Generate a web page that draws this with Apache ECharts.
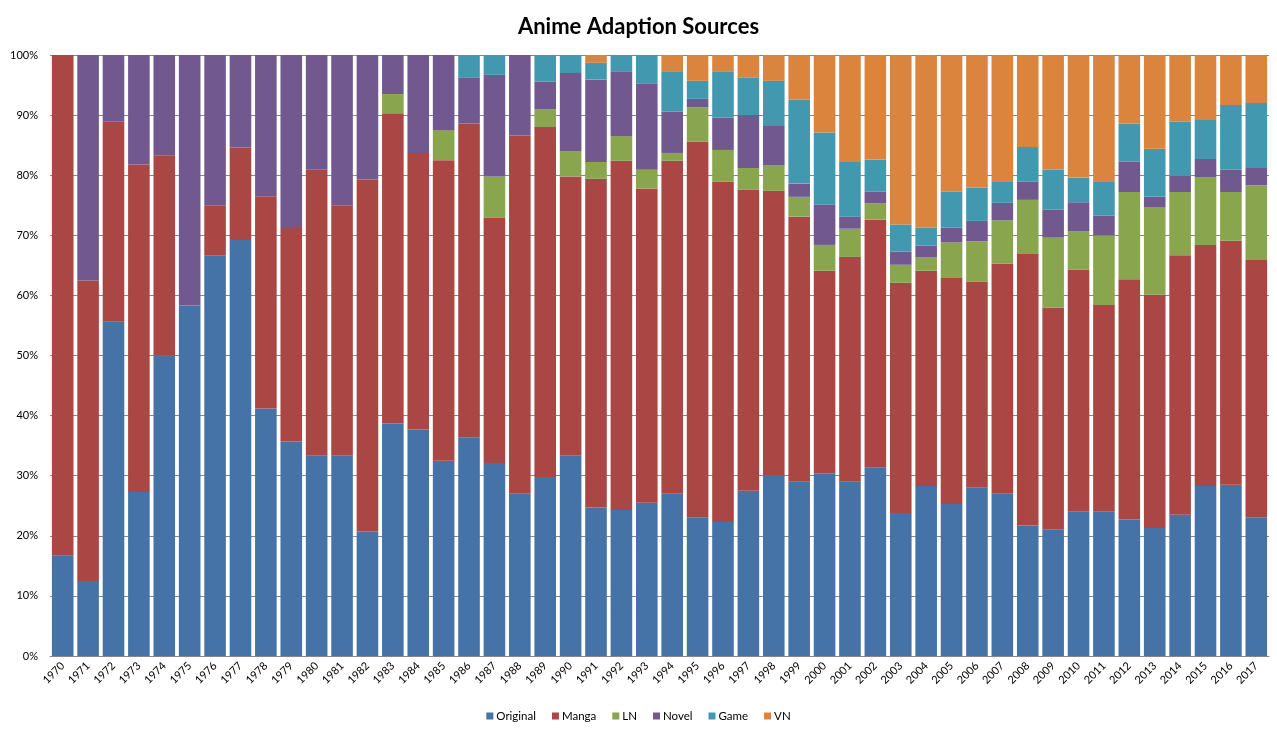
<!DOCTYPE html>
<html>
<head>
<meta charset="utf-8">
<script src="https://cdn.jsdelivr.net/npm/echarts@6/dist/echarts.min.js"></script>
<style>
html,body{margin:0;padding:0;background:#fff;}
#chart{width:1277px;height:736px;}
</style>
</head>
<body>
<div id="chart"></div>
<script>
var years = ['1970','1971','1972','1973','1974','1975','1976','1977','1978','1979','1980','1981','1982','1983','1984','1985','1986','1987','1988','1989','1990','1991','1992','1993','1994','1995','1996','1997','1998','1999','2000','2001','2002','2003','2004','2005','2006','2007','2008','2009','2010','2011','2012','2013','2014','2015','2016','2017'];
var original = [16.7,12.5,55.6,27.3,50.0,58.3,66.7,69.2,41.2,35.7,33.3,33.3,20.7,38.7,37.7,32.5,36.4,32.1,27.0,29.8,33.3,24.7,24.3,25.5,27.0,23.1,22.3,27.5,30.1,29.0,30.4,29.0,31.4,23.8,28.3,25.3,28.0,27.0,21.7,21.1,24.0,24.0,22.7,21.3,23.5,28.3,28.5,23.1];
var manga    = [83.3,50.0,33.3,54.5,33.3,0,8.3,15.4,35.3,35.7,47.6,41.7,58.6,51.6,46.0,50.0,52.2,40.8,59.6,58.2,46.5,54.7,58.1,52.3,55.4,62.5,56.6,50.1,47.3,44.1,33.7,37.4,41.2,38.3,35.8,37.6,34.3,38.3,45.2,36.9,40.3,34.4,40.0,38.8,43.2,40.1,40.6,42.8];
var ln       = [0,0,0,0,0,0,0,0,0,0,0,0,0,3.2,0,5.0,0,6.9,0,3.0,4.2,2.8,4.1,3.1,1.3,5.7,5.3,3.6,4.3,3.3,4.3,4.7,2.7,3.0,2.2,5.9,6.7,7.2,9.0,11.7,6.4,11.6,14.5,14.5,10.5,11.3,8.1,12.4];
var novel    = [0,37.5,11.1,18.2,16.7,41.7,25.0,15.4,23.5,28.6,19.1,25.0,20.7,6.5,16.3,12.5,7.6,16.9,13.4,4.6,13.0,13.7,10.8,14.3,6.9,1.4,5.4,8.8,6.5,2.2,6.7,2.0,2.0,2.2,2.0,2.5,3.4,2.9,3.0,4.6,4.8,3.3,5.1,1.8,2.7,3.0,3.7,2.9];
var game     = [0,0,0,0,0,0,0,0,0,0,0,0,0,0,0,0,3.8,3.3,0,4.4,3.0,2.8,2.7,4.8,6.7,3.0,7.7,6.2,7.5,14.0,12.0,9.1,5.3,4.5,3.0,6.0,5.5,3.6,5.8,6.6,4.1,5.7,6.3,8.0,9.0,6.5,10.8,10.8];
var vn       = [0,0,0,0,0,0,0,0,0,0,0,0,0,0,0,0,0,0,0,0,0,1.3,0,0,2.7,4.3,2.7,3.8,4.3,7.4,12.9,17.8,17.4,28.2,28.7,22.7,22.1,21.0,15.3,19.1,20.4,21.0,11.4,15.6,11.1,10.8,8.3,8.0];
var seriesNames = ['Original','Manga','LN','Novel','Game','VN'];
var seriesColors = ['#4572A7','#AA4643','#89A54E','#71588F','#4198AF','#DB843D'];
var yTicks = [0,10,20,30,40,50,60,70,80,90,100];

var raw = [original, manga, ln, novel, game, vn];
var totals = years.map(function(_, i){ var s=0; raw.forEach(function(a){ s+=a[i]; }); return s; });
var series = raw.map(function(arr, k){
  return {
    name: seriesNames[k],
    type: 'bar',
    stack: 'total',
    barCategoryGap: '15%',
    itemStyle: { color: seriesColors[k], borderWidth: 0 },
    data: arr.map(function(v, i){ return v / totals[i] * 100; })
  };
});

var chart = echarts.init(document.getElementById('chart'), null, {renderer:'canvas'});
chart.setOption({
  animation: false,
  backgroundColor: '#ffffff',
  title: {
    text: 'Anime Adaption Sources',
    left: 'center',
    top: 11,
    textStyle: { fontFamily: 'Lato', fontWeight: 'bold', fontSize: 22, color: '#000' }
  },
  legend: {
    data: seriesNames,
    bottom: 9,
    left: 'center',
    itemWidth: 7,
    itemHeight: 7,
    itemGap: 16,
    icon: 'rect',
    textStyle: { fontFamily: 'Lato', fontSize: 11.5, color: '#000', padding: [0,0,0,-2] }
  },
  grid: { left: 50, right: 8, top: 55, bottom: 80 },
  xAxis: {
    type: 'category',
    data: years,
    axisLine: { lineStyle: { color: '#868686' } },
    axisTick: { show: false },
    axisLabel: { interval: 0, rotate: 45, fontFamily: 'Lato', fontSize: 11, color: '#000', margin: 8 }
  },
  yAxis: {
    type: 'value',
    min: yTicks[0],
    max: yTicks[yTicks.length-1],
    interval: 10,
    axisLine: { show: false },
    axisTick: { show: false },
    splitLine: { lineStyle: { color: '#868686', width: 1 } },
    axisLabel: { formatter: '{value}%', fontFamily: 'Lato', fontSize: 11, color: '#000', margin: 12 }
  },
  series: series
});
</script>
</body>
</html>
